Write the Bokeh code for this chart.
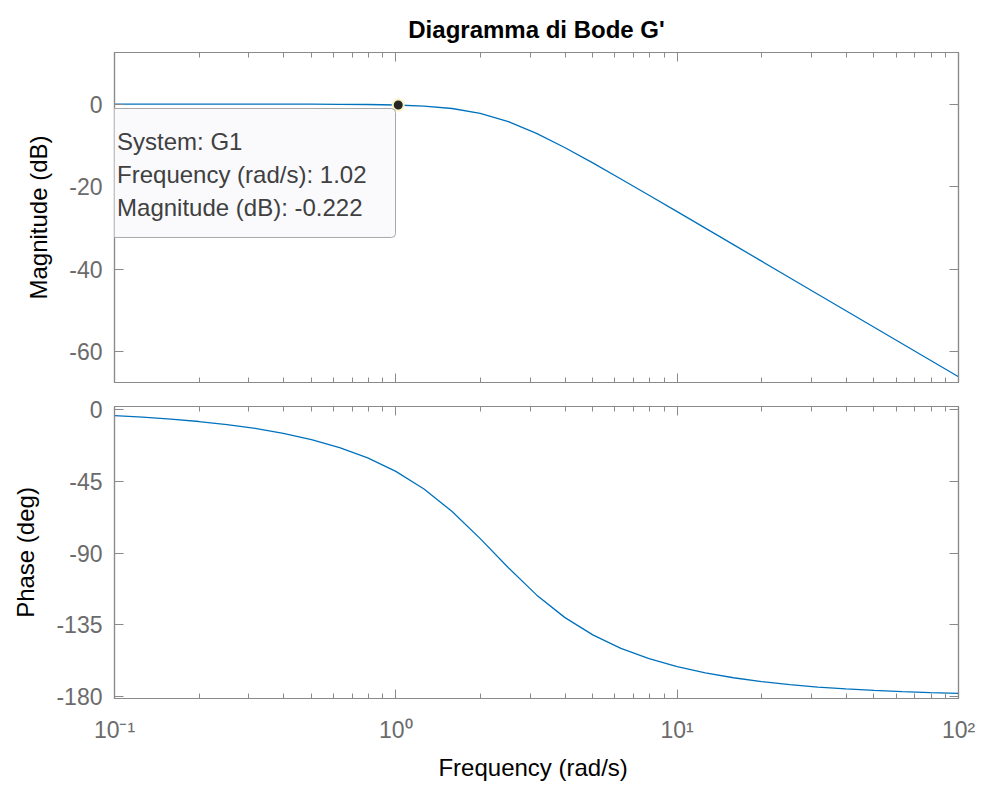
from bokeh.plotting import figure
from bokeh.models import FixedTicker, LinearAxis, LogAxis, Label
from bokeh.layouts import column
from bokeh.embed import file_html
from bokeh.resources import INLINE

# ---- data ----
freq = [0.1, 0.1259, 0.1585, 0.1995, 0.2512, 0.3162, 0.3981, 0.5012, 0.631, 0.7943,
        1.0, 1.259, 1.585, 1.995, 2.512, 3.162, 3.981, 5.012, 6.31, 7.943,
        10.0, 12.59, 15.85, 19.95, 25.12, 31.62, 39.81, 50.12, 63.1, 79.43, 100.0]
mag_db = [-0.000, -0.001, -0.001, -0.002, -0.003, -0.006, -0.011, -0.021, -0.044, -0.094,
          -0.210, -0.476, -1.060, -2.233, -4.237, -7.072, -10.492, -14.229, -18.114, -22.064,
          -26.042, -30.032, -34.027, -38.024, -42.023, -46.022, -50.021, -54.021, -58.021, -62.021,
          -66.021]
phase_deg = [-3.67, -4.62, -5.82, -7.34, -9.25, -11.67, -14.74, -18.66, -23.69, -30.19,
             -38.66, -49.71, -63.87, -80.93, -99.25, -116.29, -130.42, -141.44, -149.89, -156.37,
             -161.38, -165.29, -168.36, -170.77, -172.68, -174.19, -175.39, -176.34, -177.09, -177.69,
             -178.17]

tip_freq = [1.02]
tip_mag = [-0.222]
tip_text = "System: G1\nFrequency (rad/s): 1.02\nMagnitude (dB): -0.222"

x_ticks = [0.1, 1, 10, 100]
x_tick_labels = ["10\u207b\u00b9", "10\u2070", "10\u00b9", "10\u00b2"]
mag_ticks = [-60, -40, -20, 0]
mag_tick_labels = ["-60", "-40", "-20", "0"]
phase_ticks = [-180, -135, -90, -45, 0]
phase_tick_labels = ["-180", "-135", "-90", "-45", "0"]

title_text = "Diagramma di Bode G'"
mag_label = "Magnitude (dB)"
phase_label = "Phase (deg)"
freq_label = "Frequency  (rad/s)"

# ---- style ----
FONT = "Liberation Sans"
AXC = "#8a8a8a"
TLC = "#6b6b6b"
LINEC = "#0072BD"
minor_x = [m * 10.0 ** e for e in range(-1, 2) for m in range(2, 10)]


def style_axis(ax, ticks, show_labels, labels=None, minor=None):
    ax.ticker = FixedTicker(ticks=ticks, minor_ticks=minor or [])
    ax.axis_line_color = AXC
    ax.axis_line_width = 1.2
    ax.major_tick_line_color = AXC
    ax.minor_tick_line_color = AXC
    ax.major_tick_in = 9
    ax.major_tick_out = 0
    ax.minor_tick_in = 5 if minor else 0
    ax.minor_tick_out = 0
    ax.major_label_text_font = FONT
    ax.major_label_text_font_size = "23px"
    ax.major_label_text_color = TLC
    ax.axis_label_text_font = FONT
    ax.axis_label_text_font_size = "24px"
    ax.axis_label_text_font_style = "normal"
    ax.axis_label_text_color = "black"
    if not show_labels:
        ax.major_label_overrides = {t: "" for t in ticks}
        ax.major_label_standoff = 0
        ax.major_label_text_font_size = "0px"
    elif labels is not None:
        ax.major_label_overrides = dict(zip(ticks, labels))


def make_fig(frame_h, y_range, yticks, ylabels, ylabel, top, bottom, show_x):
    p = figure(frame_width=844, frame_height=frame_h, x_axis_type="log",
               x_range=(0.1, 100), y_range=y_range,
               output_backend="svg", toolbar_location=None,
               min_border_left=114, min_border_right=24,
               min_border_top=top, min_border_bottom=bottom,
               background_fill_color="white", border_fill_color="white")
    p.xgrid.visible = False
    p.ygrid.visible = False
    p.outline_line_color = AXC
    p.outline_line_width = 1.2
    bottom_ax = p.below[0]
    left_ax = p.left[0]
    style_axis(bottom_ax, x_ticks, show_x, x_tick_labels, minor_x)
    style_axis(left_ax, yticks, True, ylabels)
    left_ax.axis_label = ylabel
    left_ax.major_label_standoff = 12
    left_ax.axis_label_standoff = 14
    top_ax = LogAxis()
    style_axis(top_ax, x_ticks, False, None, minor_x)
    p.add_layout(top_ax, "above")
    right_ax = LinearAxis()
    style_axis(right_ax, yticks, False)
    p.add_layout(right_ax, "right")
    return p, bottom_ax


p1, _ = make_fig(330, (-67.4, 12.5), mag_ticks, mag_tick_labels, mag_label, 52, 12, False)
p1.title.text = title_text
p1.title.align = "center"
p1.title.vertical_align = "top"
p1.title.text_font = FONT
p1.title.text_font_size = "24px"
p1.title.text_font_style = "bold"
p1.title.text_color = "black"
p1.title.standoff = 16
p1.line(freq, mag_db, line_color=LINEC, line_width=1.3)

tip = Label(x=395, y=108, x_units="canvas", y_units="canvas",
            text=tip_text, anchor="top_right",
            text_font=FONT, text_font_size="24px", text_color="#404040",
            text_line_height=1.24,
            background_fill_color="#fafafd", border_line_color="#a8a8a8",
            border_line_width=1, padding=(13, 29, 19, 16), border_radius=4)
tip.level = "overlay"
p1.add_layout(tip)
dot = p1.scatter(tip_freq, tip_mag, size=11, fill_color="#262626",
                 line_color="#f7f3c4", line_width=2)
dot.level = "overlay"

p2, p2_bottom = make_fig(292, (-181.4, 2.1), phase_ticks, phase_tick_labels, phase_label, 12, 92, True)
p2_bottom.axis_label = freq_label
p2_bottom.major_label_standoff = 18
p2_bottom.axis_label_standoff = 8
p2.line(freq, phase_deg, line_color=LINEC, line_width=1.3)

layout = column(p1, p2, spacing=0)
open("out.html", "w").write(file_html(layout, INLINE))
